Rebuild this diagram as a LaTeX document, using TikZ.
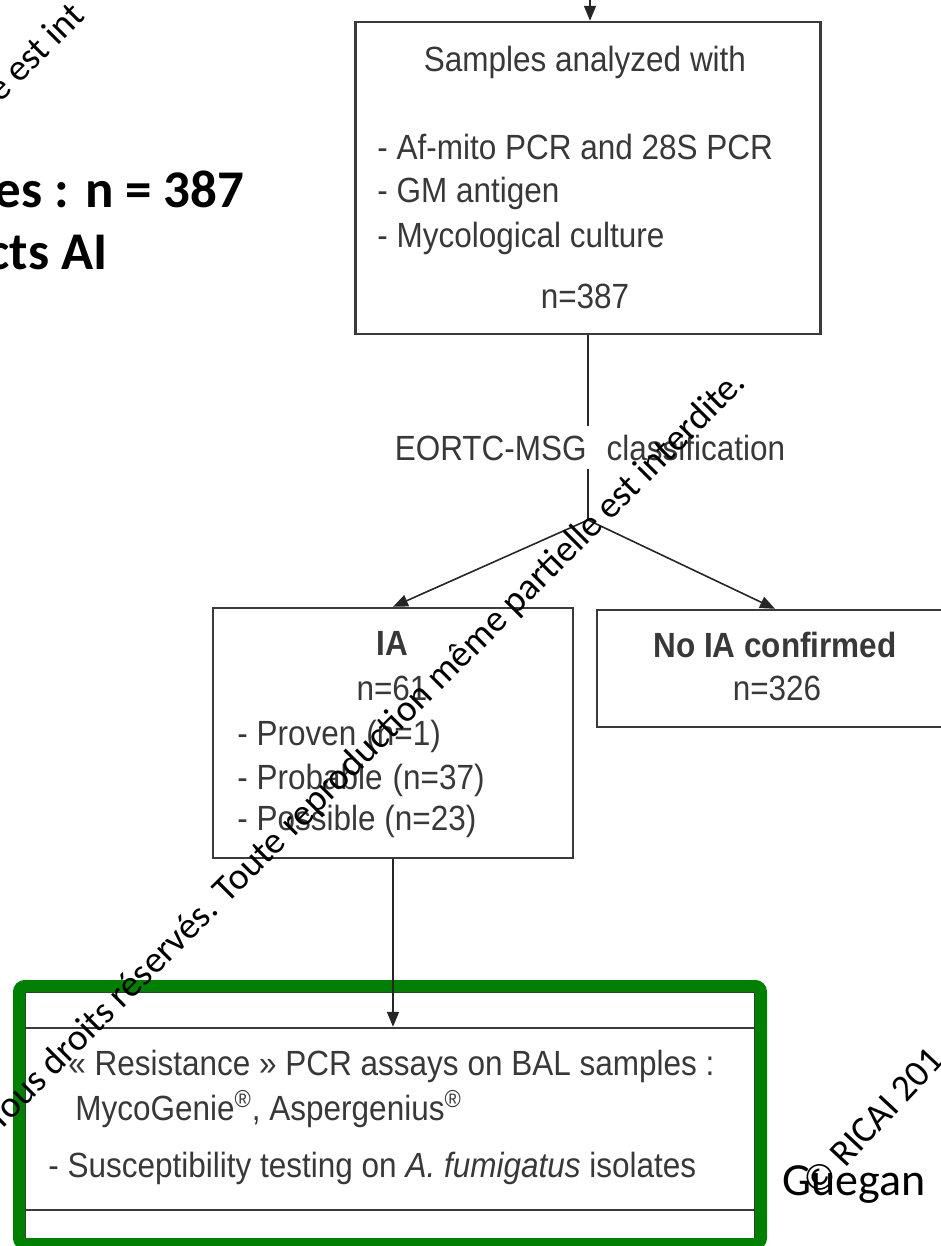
\documentclass[tikz,border=0pt]{standalone}
\usepackage{fontspec}
\setmainfont{Carlito}
\newfontfamily\chartfont[FakeStretch=0.9]{Liberation Sans}
\usetikzlibrary{arrows.meta,positioning}
\definecolor{boxgray}{HTML}{3A3A3A}
\definecolor{inkgray}{HTML}{383838}
\definecolor{framegreen}{HTML}{008000}

\begin{document}
\begin{tikzpicture}[x=0.5pt,y=-0.5pt]
  \tikzstyle{stepbox}=[draw=boxgray,line width=1.2pt,inner sep=0pt]
  \tikzstyle{txt}=[font=\chartfont\fontsize{17.5}{21}\selectfont,text=inkgray,inner sep=0pt]
  \tikzstyle{flow}=[draw=black!85,line width=0.8pt]
  \tikzstyle{arr}=[flow,-{Triangle[length=7.5pt,width=6pt]}]
  \tikzstyle{wm}=[font=\fontsize{18.75}{22}\selectfont,rotate=45,inner sep=0pt]
  \tikzstyle{slide}=[font=\bfseries\fontsize{26.5}{30}\selectfont,inner sep=0pt]
  \useasboundingbox (0,0) rectangle (941,1246);
  \clip (0,0) rectangle (941,1246);

  \node[slide,anchor=base east] (ntot) at (245,208) {es : n = 387};
  \node[slide,anchor=base east] (suspect) at (108,270) {cts AI};

  \coordinate (above) at (590,0);
  \node[stepbox,minimum width=232.5pt,minimum height=156pt] (samples) at (588,178) {};
  \node[txt,anchor=base] (title) at (585,72) {Samples analyzed with};
  \node[txt,anchor=base west] (pcr) at (377,160) {- Af-mito PCR and 28S PCR};
  \node[txt,anchor=base west] (gm) at (377,203) {- GM antigen};
  \node[txt,anchor=base west] (culture) at (377,248) {- Mycological culture};
  \node[txt,anchor=base] (n387) at (585,308) {n=387};

  \node[txt,anchor=base,inner ysep=4pt] (eortc) at (590,460) {EORTC-MSG\hspace{10pt}classification};
  \coordinate (split) at (588,520);

  \node[stepbox,minimum width=180pt,minimum height=125pt] (ia) at (393,733) {};
  \node[txt,anchor=base] (iatitle) at (392,655) {\bfseries IA};
  \node[txt,anchor=base] (n61) at (392,700) {n=61};
  \node[txt,anchor=base west] (proven) at (237,745) {- Proven\hspace{5pt}(n=1)};
  \node[txt,anchor=base west] (probable) at (237,789) {- Probable\hspace{5pt}(n=37)};
  \node[txt,anchor=base west] (possible) at (237,830) {- Possible (n=23)};

  \node[stepbox,minimum width=178pt,minimum height=58.5pt] (noia) at (775,668.5) {};
  \node[txt,anchor=base] (noiatitle) at (775,657) {\bfseries No IA confirmed};
  \node[txt,anchor=base] (n326) at (777,700) {n=326};

  \draw[arr] (above) -- (above |- samples.north);
  \draw[flow] (samples.south) -- (samples.south |- eortc.north);
  \draw[flow] (samples.south |- eortc.south) -- (split);
  \draw[arr] (split) -- (ia.north);
  \draw[arr] (split) -- (noia.north);

  \draw[boxgray,line width=1.2pt] (25,992) rectangle (755,1252);
  \node[stepbox,minimum width=365pt,minimum height=91pt] (assays) at (390,1119) {};
  \draw[framegreen,line width=6pt,rounded corners=3pt] (19,986) rectangle (761,1244);
  \draw[arr] (ia.south) -- (ia.south |- assays.north);
  \node[txt,anchor=base west] (respcr) at (68,1075) {« Resistance » PCR assays on BAL samples :};
  \node[txt,anchor=base west] (kits) at (75,1120) {MycoGenie\textsuperscript{®}, Aspergenius\textsuperscript{®}};
  \node[txt,anchor=base west] (afst) at (48,1177) {- Susceptibility testing on \textit{A. fumigatus} isolates};

  \node[font=\fontsize{23}{27}\selectfont,anchor=base west,inner sep=0pt] (author) at (782,1195) {Guegan};

  \node[wm,anchor=base east] (wmmain) at (748,384) {Tous droits réservés. Toute reproduction même partielle est interdite.};
  \node[wm,anchor=base west] (wmtop) at (0,104) {e est int};
  \node[wm,anchor=base west,rotate=2] (wmcorner) at (818,1198) {© RICAI 201};
\end{tikzpicture}
\end{document}
